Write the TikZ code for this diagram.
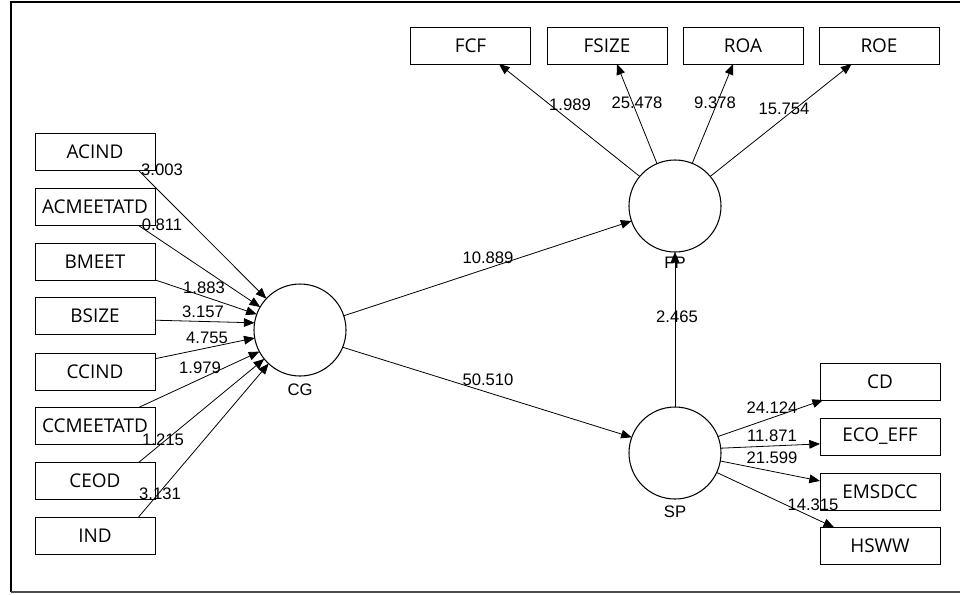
\documentclass[tikz,border=0pt]{standalone}
\usepackage{fontspec}
\setmainfont{Liberation Sans}
\newfontfamily\boxfont{Open Sans}
\usetikzlibrary{arrows.meta}
\begin{document}
\begin{tikzpicture}[x=0.75pt,y=-0.75pt,
  mv/.style={draw,line width=0.7pt,minimum width=90pt,minimum height=27.75pt,inner sep=0pt,outer sep=0pt,font=\boxfont\fontsize{14.2}{16}\selectfont},
  lv/.style={draw,circle,line width=0.8pt,minimum size=69pt,inner sep=0pt,outer sep=0pt},
  lbl/.style={inner sep=0pt,font=\fontsize{12.5}{14}\selectfont},
  arr/.style={line width=0.6pt,-{Triangle[length=8pt,width=6.5pt]}}]
\useasboundingbox (0,0) rectangle (960,594);
% frame
\draw[line width=2pt] (960,2) -- (11,2) -- (11,592);
\draw[line width=0.8pt,black!70] (11,592) -- (960,592);
% left indicators
\node[mv] (acind) at (95,152) {ACIND};
\node[mv] (acmeet) at (95,207) {ACMEETATD};
\node[mv] (bmeet) at (95,261.5) {BMEET};
\node[mv] (bsize) at (95,316) {BSIZE};
\node[mv] (ccind) at (95,371.5) {CCIND};
\node[mv] (ccmeet) at (95,426) {CCMEETATD};
\node[mv] (ceod) at (95,481) {CEOD};
\node[mv] (ind) at (95,535.5) {IND};
% top indicators
\node[mv] (fcf) at (470.5,45.5) {FCF};
\node[mv] (fsize) at (607,45.5) {FSIZE};
\node[mv] (roa) at (743,45.5) {ROA};
\node[mv] (roe) at (879,45.5) {ROE};
% right indicators
\node[mv] (cd) at (880,381.5) {CD};
\node[mv] (eco) at (880,436.5) {ECO\_EFF};
\node[mv] (ems) at (880,491.5) {EMSDCC};
\node[mv] (hsww) at (880,546) {HSWW};
% latent variables
\node[lv] (cg) at (300,330) {};
\node[lv] (fp) at (675,206) {};
\node[lv] (sp) at (675,453) {};
\node[lbl] (cgl) at (300,390) {CG};
\node[lbl] (fpl) at (675,263) {FP};
\node[lbl] (spl) at (675,512) {SP};
% left arrows
\draw[arr] (acind.-23) -- (cg.137);
\draw[arr] (acmeet.-23) -- (cg.150);
\draw[arr] (bmeet.-17) -- (cg.160);
\draw[arr] (bsize.-4) -- (cg.171);
\draw[arr] (ccind.12) -- (cg.190);
\draw[arr] (ccmeet.23) -- (cg.208);
\draw[arr] (ceod.23) -- (cg.219);
\draw[arr] (ind.23) -- (cg.227);
\node[lbl] (t1) at (162,170) {3.003};
\node[lbl] (t2) at (162,225) {0.811};
\node[lbl] (t3) at (204,288) {1.883};
\node[lbl] (t4) at (203,312) {3.157};
\node[lbl] (t5) at (207,338) {4.755};
\node[lbl] (t6) at (200,368) {1.979};
\node[lbl] (t7) at (163,440) {1.215};
\node[lbl] (t8) at (160,494) {3.131};
% top arrows
\draw[arr] (fp.140) -- (fcf.-33.5);
\draw[arr] (fp.113) -- (fsize.-62);
\draw[arr] (fp.68) -- (roa.-118);
\draw[arr] (fp.40) -- (roe.-146.5);
\node[lbl] (u1) at (570,105) {1.989};
\node[lbl] (u2) at (637,103) {25.478};
\node[lbl] (u3) at (715,103) {9.378};
\node[lbl] (u4) at (784,109) {15.754};
% structural paths
\draw[arr] (cg.18) -- (fp.-161);
\draw[arr] (cg.-22) -- (sp.160);
\draw[arr] (sp.90) -- (fp.-90);
\node[lbl] (p1) at (488,258) {10.889};
\node[lbl] (p2) at (488,380) {50.510};
\node[lbl] (p3) at (677,317) {2.465};
% right arrows
\draw[arr] (sp.21) -- (cd.-162);
\draw[arr] (sp.6) -- (eco.-173);
\draw[arr] (sp.-10) -- (ems.170);
\draw[arr] (sp.-25) -- (hsww.158);
\node[lbl] (r1) at (772,408) {24.124};
\node[lbl] (r2) at (772,436) {11.871};
\node[lbl] (r3) at (772,458) {21.599};
\node[lbl] (r4) at (813,505) {14.315};
\end{tikzpicture}
\end{document}
